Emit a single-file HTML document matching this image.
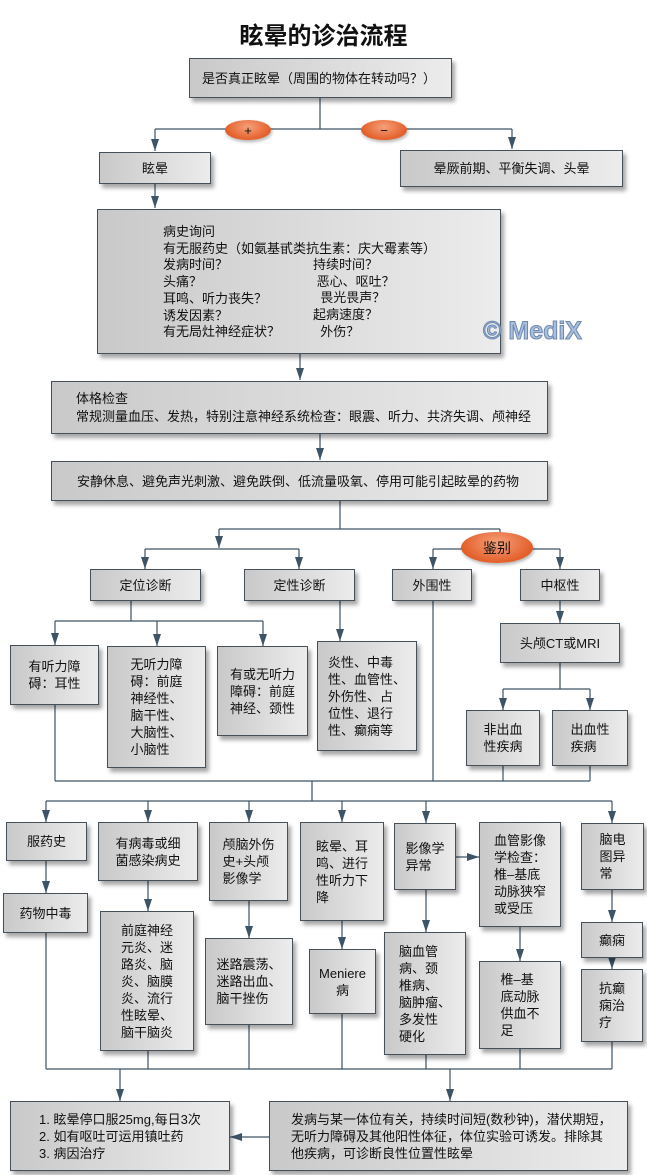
<!DOCTYPE html>
<html><head><meta charset="utf-8">
<style>
*{margin:0;padding:0;box-sizing:border-box}
body{width:647px;height:1175px;background:#fff;position:relative;overflow:hidden;font-family:"Liberation Sans","Noto Sans CJK SC",sans-serif;font-size:13px;color:#111}
.b{position:absolute;border:1px solid #46505a;background:linear-gradient(to right,#c9c9c9,#ececec);box-shadow:3px 4px 4px rgba(0,0,0,.35);display:flex;align-items:center;justify-content:center;line-height:17px;text-align:left}
.t{position:absolute;line-height:16.7px;white-space:nowrap}
.e{position:absolute;border-radius:50%;background:radial-gradient(ellipse at 50% 35%,#f6a07a,#e35f2a 70%,#d5501c);display:flex;align-items:center;justify-content:center;box-shadow:1px 2px 3px rgba(0,0,0,.3)}
svg{position:absolute;left:0;top:0}
</style></head><body>
<div style="position:absolute;left:0;width:647px;top:16px;text-align:center;font-size:24px;font-weight:bold;font-family:'Liberation Sans','Noto Sans CJK SC',sans-serif">眩晕的诊治流程</div>

<svg width="647" height="1175">
<defs>
<marker id="a" markerWidth="12" markerHeight="8" refX="12" refY="4" orient="auto" markerUnits="userSpaceOnUse"><path d="M0,0 L12,4 L0,8 z" fill="#3d5366"/></marker>
<marker id="r" markerWidth="12" markerHeight="8" refX="12" refY="4" orient="auto" markerUnits="userSpaceOnUse"><path d="M0,0 L12,4 L0,8 z" fill="#3d5366"/></marker></defs>
<g stroke="#3d5366" stroke-width="1.2" fill="none">
<path d="M320,98V129"/><path d="M155,129H512"/>
<path d="M155,129V151" marker-end="url(#a)"/><path d="M512,129V149" marker-end="url(#a)"/>
<path d="M155,184V208" marker-end="url(#a)"/>
<path d="M300,354V380" marker-end="url(#a)"/>
<path d="M320,434V460" marker-end="url(#a)"/>
<path d="M340,501V529M219,529H500M500,529V535"/>
<path d="M219,529V548" marker-end="url(#a)"/>
<path d="M145,549H299"/><path d="M145,549V569" marker-end="url(#a)"/><path d="M299,549V569" marker-end="url(#a)"/>
<path d="M433,549H560"/><path d="M433,549V569" marker-end="url(#a)"/><path d="M560,549V569" marker-end="url(#a)"/>
<path d="M131,601V621M55,621H263"/>
<path d="M55,621V645" marker-end="url(#a)"/><path d="M157,621V646" marker-end="url(#a)"/><path d="M263,621V646" marker-end="url(#a)"/>
<path d="M340,601V641" marker-end="url(#a)"/>
<path d="M433,601V781"/>
<path d="M560,601V623" marker-end="url(#a)"/>
<path d="M560,663V689M503,689H590"/><path d="M503,689V710" marker-end="url(#a)"/><path d="M590,689V710" marker-end="url(#a)"/>
<path d="M55,705V781M503,766V781M590,766V781M55,781H590"/>
<path d="M312,781V801M46,801H612"/>
<path d="M46,801V822" marker-end="url(#a)"/><path d="M148,801V822" marker-end="url(#a)"/><path d="M249,801V822" marker-end="url(#a)"/><path d="M342,801V822" marker-end="url(#a)"/><path d="M426,801V823" marker-end="url(#a)"/><path d="M612,801V823" marker-end="url(#a)"/>
<path d="M456,857H479" marker-end="url(#r)"/>
<path d="M46,861V893" marker-end="url(#a)"/><path d="M148,881V911" marker-end="url(#a)"/><path d="M249,901V938" marker-end="url(#a)"/><path d="M342,921V949" marker-end="url(#a)"/><path d="M426,890V932" marker-end="url(#a)"/><path d="M520,927V961" marker-end="url(#a)"/><path d="M612,890V922" marker-end="url(#a)"/><path d="M612,958V969" marker-end="url(#a)"/>
<path d="M46,933V1069M148,1051V1069M249,1025V1069M342,1014V1069M426,1055V1069M520,1049V1069M612,1042V1069M46,1069H612"/>
<path d="M120,1069V1101" marker-end="url(#a)"/><path d="M450,1069V1101" marker-end="url(#a)"/>
<path d="M269,1137H230" marker-end="url(#r)"/>
</g></svg>

<div class="b" style="left:189px;top:58px;width:263px;height:40px;justify-content:flex-start;padding-left:12px">是否真正眩晕（周围的物体在转动吗？）</div>
<div class="e" style="left:225px;top:120px;width:46px;height:20px">+</div>
<div class="e" style="left:361px;top:120px;width:46px;height:20px">−</div>
<div class="b" style="left:99px;top:152px;width:112px;height:32px">眩晕</div>
<div class="b" style="left:400px;top:150px;width:223px;height:37px">晕厥前期、平衡失调、头晕</div>

<div class="b" style="left:97px;top:209px;width:404px;height:145px"></div>
<div class="t" style="left:163px;top:224px">病史询问<br>有无服药史（如氨基甙类抗生素：庆大霉素等）<br>发病时间？<br>头痛？<br>耳鸣、听力丧失？<br>诱发因素？<br>有无局灶神经症状？</div>
<div class="t" style="left:313px;top:257px">持续时间？<br>&nbsp;恶心、呕吐？<br>&nbsp;&nbsp;畏光畏声？<br>起病速度？<br>&nbsp;&nbsp;外伤？</div>
<div style="position:absolute;left:483px;top:317px;font-size:25px;font-weight:bold;color:#a9bfdc;-webkit-text-stroke:1px #6e88b0;font-family:'Liberation Sans',sans-serif">© MediX</div>

<div class="b" style="left:51px;top:381px;width:497px;height:53px;justify-content:flex-start;padding-left:24px;line-height:18px">体格检查<br>常规测量血压、发热，特别注意神经系统检查：眼震、听力、共济失调、颅神经</div>
<div class="b" style="left:51px;top:461px;width:497px;height:40px;justify-content:flex-start;padding-left:25px">安静休息、避免声光刺激、避免跌倒、低流量吸氧、停用可能引起眩晕的药物</div>

<div class="e" style="left:461px;top:532px;width:72px;height:31px;font-size:14px">鉴别</div>
<div class="b" style="left:90px;top:569px;width:111px;height:32px">定位诊断</div>
<div class="b" style="left:244px;top:569px;width:111px;height:32px">定性诊断</div>
<div class="b" style="left:392px;top:569px;width:80px;height:32px">外围性</div>
<div class="b" style="left:520px;top:569px;width:80px;height:32px">中枢性</div>

<div class="b" style="left:10px;top:645px;width:89px;height:60px">有听力障<br>碍：耳性</div>
<div class="b" style="left:107px;top:646px;width:99px;height:122px">无听力障<br>碍：前庭<br>神经性、<br>脑干性、<br>大脑性、<br>小脑性</div>
<div class="b" style="left:217px;top:646px;width:91px;height:90px">有或无听力<br>障碍：前庭<br>神经、颈性</div>
<div class="b" style="left:317px;top:641px;width:100px;height:110px">炎性、中毒<br>性、血管性、<br>外伤性、占<br>位性、退行<br>性、癫痫等</div>
<div class="b" style="left:500px;top:623px;width:120px;height:40px">头颅CT或MRI</div>
<div class="b" style="left:466px;top:710px;width:74px;height:56px">非出血<br>性疾病</div>
<div class="b" style="left:552px;top:710px;width:76px;height:56px">出血性<br>疾病</div>

<div class="b" style="left:6px;top:822px;width:81px;height:39px">服药史</div>
<div class="b" style="left:98px;top:822px;width:100px;height:59px">有病毒或细<br>菌感染病史</div>
<div class="b" style="left:209px;top:822px;width:79px;height:79px">颅脑外伤<br>史+头颅<br>影像学</div>
<div class="b" style="left:300px;top:822px;width:84px;height:99px">眩晕、耳<br>鸣、进行<br>性听力下<br>降</div>
<div class="b" style="left:394px;top:823px;width:62px;height:67px">影像学<br>异常</div>
<div class="b" style="left:479px;top:822px;width:82px;height:105px">血管影像<br>学检查：<br>椎–基底<br>动脉狭窄<br>或受压</div>
<div class="b" style="left:581px;top:823px;width:63px;height:67px">脑电<br>图异<br>常</div>

<div class="b" style="left:3px;top:893px;width:85px;height:40px">药物中毒</div>
<div class="b" style="left:100px;top:911px;width:94px;height:140px">前庭神经<br>元炎、迷<br>路炎、脑<br>炎、脑膜<br>炎、流行<br>性眩晕、<br>脑干脑炎</div>
<div class="b" style="left:205px;top:938px;width:88px;height:87px">迷路震荡、<br>迷路出血、<br>脑干挫伤</div>
<div class="b" style="left:309px;top:949px;width:67px;height:65px;text-align:center">Meniere<br>病</div>
<div class="b" style="left:384px;top:932px;width:82px;height:123px">脑血管<br>病、颈<br>椎病、<br>脑肿瘤、<br>多发性<br>硬化</div>
<div class="b" style="left:479px;top:961px;width:82px;height:88px">椎–基<br>底动脉<br>供血不<br>足</div>
<div class="b" style="left:581px;top:922px;width:62px;height:36px">癫痫</div>
<div class="b" style="left:581px;top:969px;width:62px;height:73px">抗癫<br>痫治<br>疗</div>

<div class="b" style="left:10px;top:1101px;width:220px;height:70px;justify-content:flex-start;padding-left:28px">1. 眩晕停口服25mg,每日3次<br>2. 如有呕吐可运用镇吐药<br>3. 病因治疗</div>
<div class="b" style="left:269px;top:1101px;width:359px;height:70px;justify-content:flex-start;padding-left:21px">发病与某一体位有关，持续时间短(数秒钟)，潜伏期短，<br>无听力障碍及其他阳性体征，体位实验可诱发。排除其<br>他疾病，可诊断良性位置性眩晕</div>
</body></html>
